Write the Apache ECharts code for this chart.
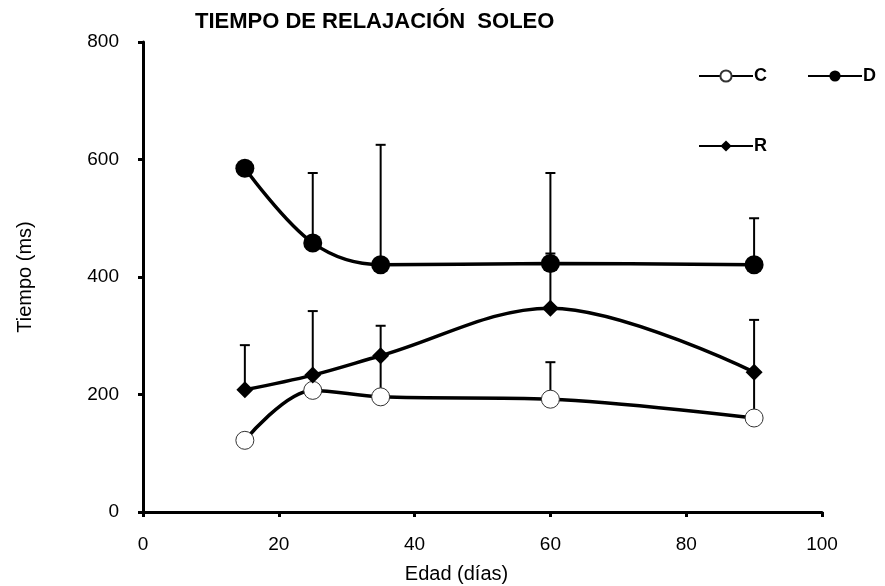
<!DOCTYPE html>
<html>
<head>
<meta charset="utf-8">
<title>Tiempo de relajación soleo</title>
<script src="https://cdn.jsdelivr.net/npm/echarts@6/dist/echarts.min.js"></script>
<style>
  html, body { margin: 0; padding: 0; background: #fff; }
  #chart { width: 885px; height: 586px; }
</style>
</head>
<body>
<div id="chart"></div>
<script>
// edad (días)
const edades = [15, 25, 35, 60, 90];

// medias (ms)
const serieC = [122, 207, 196, 192, 160];
const serieD = [585, 458, 421, 423, 421];
const serieR = [208, 233, 266, 347, 238];

// extremo superior de la barra de error (null = sin barra)
const errC = [null, 215, 262, 255, 238];
const errD = [null, 577, 625, 577, 500];
const errR = [284, 342, 317, 440, 327];

const xTicks = [0, 20, 40, 60, 80, 100];
const yTicks = [0, 200, 400, 600, 800];

const font = '"Liberation Sans", Arial, sans-serif';

function toPairs(vals) {
  return edades.map((x, i) => [x, vals[i]]);
}

function toErr(means, tops) {
  const out = [];
  edades.forEach((x, i) => {
    if (tops[i] != null) out.push([x, means[i], tops[i]]);
  });
  return out;
}

function renderError(params, api) {
  const base = api.coord([api.value(0), api.value(1)]);
  const top = api.coord([api.value(0), api.value(2)]);
  const half = 5;
  const style = { stroke: '#000', lineWidth: 2 };
  return {
    type: 'group',
    children: [
      { type: 'line', shape: { x1: base[0], y1: base[1], x2: top[0], y2: top[1] }, style: style },
      { type: 'line', shape: { x1: top[0] - half, y1: top[1], x2: top[0] + half, y2: top[1] }, style: style }
    ]
  };
}

function errorSeries(means, tops) {
  return {
    type: 'custom',
    renderItem: renderError,
    data: toErr(means, tops),
    z: 1,
    silent: true,
    encode: { x: 0, y: [1, 2] }
  };
}

const chart = echarts.init(document.getElementById('chart'));

const legendText = { fontFamily: font, fontSize: 18, fontWeight: 'bold', color: '#000', padding: [0, 0, 0, -4] };

const option = {
  backgroundColor: '#fff',
  animation: false,
  title: {
    text: 'TIEMPO DE RELAJACIÓN  SOLEO',
    left: 190,
    top: 6,
    textStyle: { fontFamily: font, fontSize: 22, fontWeight: 'bold', color: '#000' }
  },
  legend: [
    {
      data: ['C', 'D'],
      left: 693,
      top: 62,
      itemWidth: 54,
      itemHeight: 14,
      itemGap: 40,
      textStyle: legendText
    },
    {
      data: ['R'],
      left: 693,
      top: 132,
      itemWidth: 54,
      itemHeight: 14,
      textStyle: legendText
    }
  ],
  grid: { left: 143, right: 63, top: 42, bottom: 74, outerBoundsMode: 'none' },
  xAxis: {
    type: 'value',
    min: xTicks[0],
    max: xTicks[xTicks.length - 1],
    interval: 20,
    name: 'Edad (días)',
    nameLocation: 'middle',
    nameGap: 52,
    nameTextStyle: { fontFamily: font, fontSize: 20, color: '#000', padding: [0, 52, 0, 0] },
    axisLine: { lineStyle: { color: '#000', width: 3 } },
    axisTick: { length: 5, lineStyle: { color: '#000', width: 3 } },
    axisLabel: { fontFamily: font, fontSize: 19, color: '#000', margin: 23 },
    splitLine: { show: false }
  },
  yAxis: {
    type: 'value',
    min: yTicks[0],
    max: yTicks[yTicks.length - 1],
    interval: 200,
    name: 'Tiempo (ms)',
    nameLocation: 'middle',
    nameGap: 108,
    nameTextStyle: { fontFamily: font, fontSize: 20, color: '#000' },
    axisLine: { lineStyle: { color: '#000', width: 3 } },
    axisTick: { length: 5, lineStyle: { color: '#000', width: 3 } },
    axisLabel: { fontFamily: font, fontSize: 19, color: '#000', margin: 24 },
    splitLine: { show: false }
  },
  series: [
    errorSeries(serieC, errC),
    errorSeries(serieD, errD),
    errorSeries(serieR, errR),
    {
      name: 'C',
      type: 'line',
      data: toPairs(serieC),
      smooth: 0.35,
      symbol: 'circle',
      symbolSize: 18,
      lineStyle: { color: '#000', width: 3.5 },
      itemStyle: { color: '#fff', borderColor: '#333', borderWidth: 1 },
      z: 3
    },
    {
      name: 'D',
      type: 'line',
      data: toPairs(serieD),
      smooth: 0.35,
      symbol: 'circle',
      symbolSize: 19,
      lineStyle: { color: '#000', width: 3.5 },
      itemStyle: { color: '#000', borderColor: '#000', borderWidth: 0 },
      z: 3
    },
    {
      name: 'R',
      type: 'line',
      data: toPairs(serieR),
      smooth: 0.35,
      symbol: 'diamond',
      symbolSize: 17,
      lineStyle: { color: '#000', width: 3.5 },
      itemStyle: { color: '#000' },
      z: 3
    }
  ]
};

chart.setOption(option);
</script>
</body>
</html>
